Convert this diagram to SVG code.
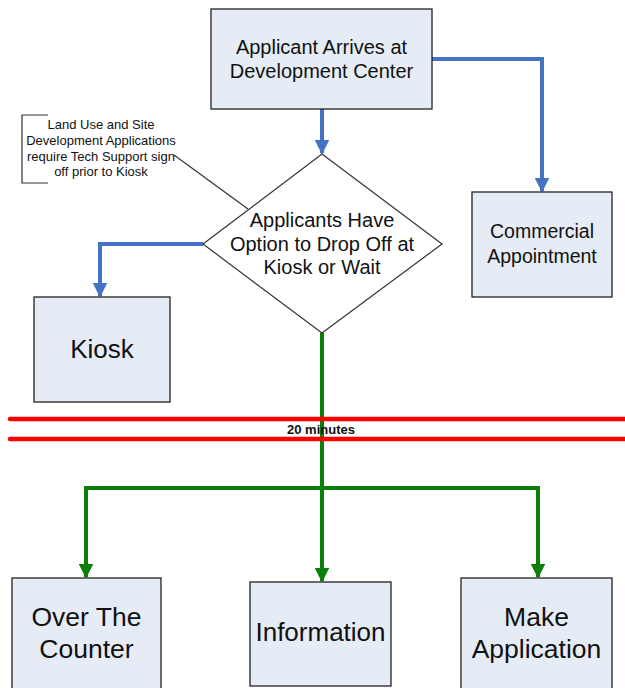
<svg xmlns="http://www.w3.org/2000/svg" width="625" height="688" viewBox="0 0 625 688">
<style>
.box{fill:#e6ecf6;stroke:#222;stroke-width:1.3}
.dia{fill:#fff;stroke:#333;stroke-width:1.2}
.t{font-family:"Liberation Sans",Arial,sans-serif;fill:#111;text-anchor:middle}
.blue{fill:none;stroke:#4472c4;stroke-width:4}
.green{fill:none;stroke:#0a800a;stroke-width:4}
.red{stroke:#ff0000;stroke-width:4.5;stroke-linecap:round}
</style>
<defs>
<marker id="ab" viewBox="0 0 10 10" refX="9" refY="5" markerWidth="3.6" markerHeight="3.6" orient="auto" markerUnits="strokeWidth"><path d="M0,0 L10,5 L0,10 z" fill="#4472c4"/></marker>
<marker id="ag" viewBox="0 0 10 10" refX="9" refY="5" markerWidth="3.6" markerHeight="3.6" orient="auto" markerUnits="strokeWidth"><path d="M0,0 L10,5 L0,10 z" fill="#0a800a"/></marker>
</defs>
<g id="connectors">
<path class="blue" d="M322,109 V153" marker-end="url(#ab)"/>
<path class="blue" d="M432,59 H542 V191" marker-end="url(#ab)"/>
<path class="blue" d="M203,244 H100 V296" marker-end="url(#ab)"/>
<path class="green" d="M322,333 V581" marker-end="url(#ag)"/>
<path class="green" d="M86,577 V488 H538 V577" marker-end="url(#ag)"/>
<path class="green" d="M86,488 V577" marker-end="url(#ag)"/>
<line x1="174" y1="155" x2="248" y2="209" stroke="#333" stroke-width="1.2"/>
</g>
<g id="time-bar">
<line class="red" x1="10" y1="419" x2="625" y2="419"/>
<line class="red" x1="10" y1="439" x2="625" y2="439"/>
<text class="t" x="321" y="434" font-size="13" font-weight="bold">20 minutes</text>
</g>
<g id="note">
<path d="M48,115 H22 V183 H48" fill="none" stroke="#333" stroke-width="1.2"/>
<text class="t" x="101" y="129" font-size="13">Land Use and Site</text>
<text class="t" x="101" y="145" font-size="13">Development Applications</text>
<text class="t" x="101" y="161" font-size="13">require Tech Support sign</text>
<text class="t" x="101" y="176" font-size="13">off prior to Kiosk</text>
</g>
<g id="arrives">
<rect class="box" x="211" y="9" width="221" height="100"/>
<text class="t" x="321.5" y="54" font-size="20">Applicant Arrives at</text>
<text class="t" x="321.5" y="78" font-size="20">Development Center</text>
</g>
<g id="decision">
<polygon class="dia" points="322,154 442,244 322,333 203,244"/>
<text class="t" x="322" y="227" font-size="20">Applicants Have</text>
<text class="t" x="322" y="251" font-size="20">Option to Drop Off at</text>
<text class="t" x="322" y="274" font-size="20">Kiosk or Wait</text>
</g>
<g id="commercial">
<rect class="box" x="472" y="192" width="140" height="105"/>
<text class="t" x="542" y="238" font-size="19.5">Commercial</text>
<text class="t" x="542" y="263" font-size="19.5">Appointment</text>
</g>
<g id="kiosk">
<rect class="box" x="34" y="297" width="136" height="105"/>
<text class="t" x="102" y="358" font-size="26">Kiosk</text>
</g>
<g id="counter">
<rect class="box" x="12" y="578" width="149" height="115"/>
<text class="t" x="86.5" y="626" font-size="26.5">Over The</text>
<text class="t" x="86.5" y="658" font-size="26.5">Counter</text>
</g>
<g id="information">
<rect class="box" x="250" y="582" width="141" height="104"/>
<text class="t" x="320.5" y="641" font-size="26">Information</text>
</g>
<g id="make-application">
<rect class="box" x="461" y="578" width="151" height="115"/>
<text class="t" x="536.5" y="626" font-size="26.5">Make</text>
<text class="t" x="536.5" y="658" font-size="26.5">Application</text>
</g>
</svg>
